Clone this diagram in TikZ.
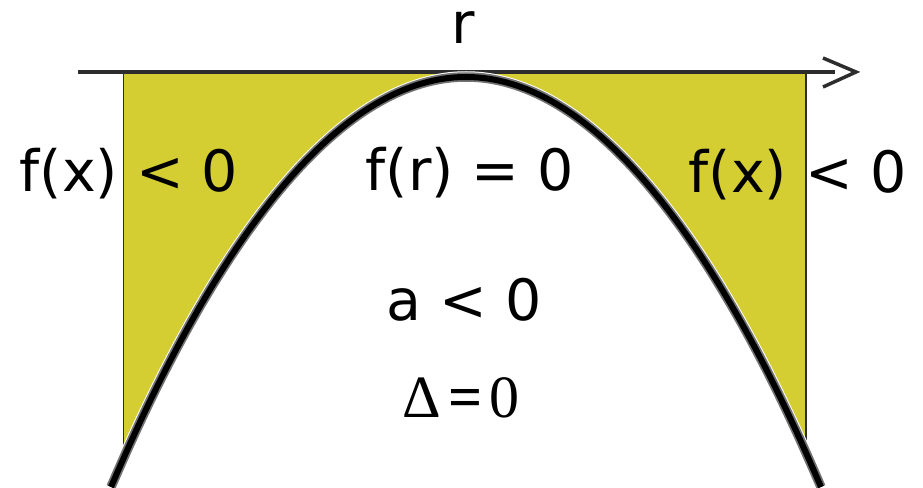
\documentclass[tikz,border=0pt]{standalone}
\usepackage{fontspec}
\setmainfont{DejaVu Sans}
\newfontfamily\deltafont{Liberation Serif}
\definecolor{fillyellow}{RGB}{213,206,50}
\definecolor{axisgray}{RGB}{45,45,45}
\begin{document}
\begin{tikzpicture}[x=1pt,y=-1pt,
  lbl/.style={inner sep=0pt, anchor=base, font=\fontsize{57}{60}\selectfont},
  rlbl/.style={inner sep=0pt, anchor=base, font=\fontsize{57}{60}\selectfont},
  dlbl/.style={inner sep=0pt, anchor=base, font=\deltafont\fontsize{60}{64}\selectfont},
  vline/.style={draw=axisgray, line width=1.5pt},
  axisline/.style={draw=axisgray, line width=4.5pt},
  chevron/.style={draw=axisgray, line width=3.5pt, line join=miter},
  halo/.style={draw=white, line width=11.5pt},
  curvesoft/.style={draw=black!55, line width=9.5pt},
  curvecore/.style={draw=black, line width=6pt}]
\useasboundingbox (0,0) rectangle (923,487);
\clip (0,0) rectangle (923,487);
% key points
\coordinate (tl) at (123.5,72);
\coordinate (br) at (806,487);
\coordinate (pl) at (111,487);
\coordinate (pv) at (466,77);
\coordinate (pr) at (821,487);
\coordinate (lx) at (123.5,460);
\coordinate (tr) at (806,72);
\coordinate (rx) at (806,455);
\coordinate (ax0) at (78,72);
\coordinate (ax1) at (835,72);
\coordinate (ch1) at (823,58);
\coordinate (ch2) at (856,72);
\coordinate (ch3) at (823,87);
% yellow region
\fill[fillyellow] (tl) rectangle (br);
\fill[white] (pl) parabola bend (pv) (pr) -- cycle;
% vertical lines
\draw[vline] (tl) -- (lx);
\draw[vline] (tr) -- (rx);
% axis
\draw[axisline] (ax0) -- (ax1);
\draw[chevron] (ch1) -- (ch2) -- (ch3);
% parabola
\draw[halo] (pl) parabola bend (pv) (pr);
\draw[curvesoft] (pl) parabola bend (pv) (pr);
\draw[curvecore] (pl) parabola bend (pv) (pr);
% labels
\node[rlbl] (r) at (463,44) {r};
\node[lbl] (fxl) at (129,191) {f(x) < 0};
\node[lbl] (fr) at (470,190) {f(r) = 0};
\node[lbl] (fxr) at (798,192) {f(x) < 0};
\node[lbl] (alt) at (464,320) {a < 0};
\node[dlbl] (delta) at (461,417) {Δ\kern7pt\textbf{=}\kern7pt0};
\end{tikzpicture}
\end{document}
